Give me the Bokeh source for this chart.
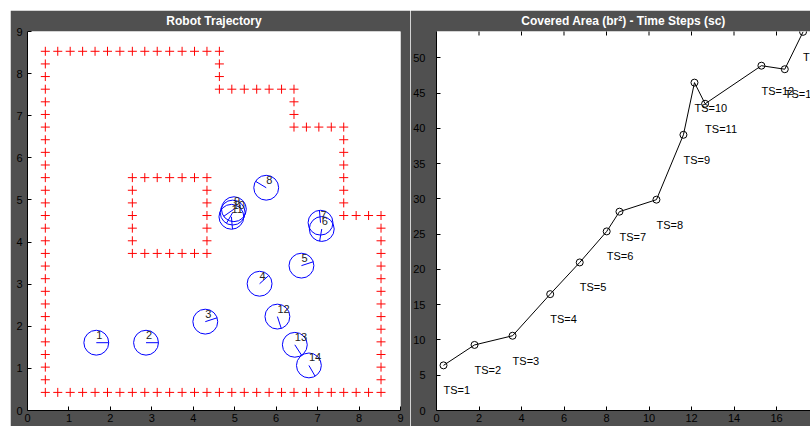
from bokeh.plotting import figure
from bokeh.models import Range1d, FixedTicker, Spacer, ColumnDataSource
from bokeh.layouts import row, column
from bokeh.core.properties import value
from bokeh.embed import file_html
from bokeh.resources import INLINE

# ---------------- data ----------------
# occupancy map of the walls (top row first), cell origin and cell size
wall_map = [
    "+" * 15 + "." * 13,
    "+" + "." * 13 + "+" + "." * 13,
    "+" + "." * 13 + "+" + "." * 13,
    "+" + "." * 13 + "+" * 7 + "." * 7,
    "+" + "." * 19 + "+" + "." * 7,
    "+" + "." * 19 + "+" + "." * 7,
    "+" + "." * 19 + "+" * 5 + "." * 3,
    "+" + "." * 23 + "+" + "." * 3,
    "+" + "." * 23 + "+" + "." * 3,
    "+" + "." * 23 + "+" + "." * 3,
    "+" + "." * 6 + "+" * 7 + "." * 10 + "+" + "." * 3,
    "+" + "." * 6 + "+" + "." * 5 + "+" + "." * 10 + "+" + "." * 3,
    "+" + "." * 6 + "+" + "." * 5 + "+" + "." * 10 + "+" + "." * 3,
    "+" + "." * 6 + "+" + "." * 5 + "+" + "." * 10 + "+" * 4,
    "+" + "." * 6 + "+" + "." * 5 + "+" + "." * 13 + "+",
    "+" + "." * 6 + "+" + "." * 5 + "+" + "." * 13 + "+",
    "+" + "." * 6 + "+" * 7 + "." * 13 + "+",
    "+" + "." * 26 + "+",
    "+" + "." * 26 + "+",
    "+" + "." * 26 + "+",
    "+" + "." * 26 + "+",
    "+" + "." * 26 + "+",
    "+" + "." * 26 + "+",
    "+" + "." * 26 + "+",
    "+" + "." * 26 + "+",
    "+" + "." * 26 + "+",
    "+" + "." * 26 + "+",
    "+" * 28,
]
GRID_X0 = 0.43
GRID_Y0 = 0.43
GRID_STEP = 0.3

robot_id = ["1", "2", "3", "4", "5", "6", "7", "8", "9", "10", "11", "12", "13", "14"]
robot_x = [1.66, 2.86, 4.29, 5.60, 6.61, 7.10, 7.07, 5.76, 4.98, 4.95, 4.92, 6.03, 6.45, 6.79]
robot_y = [1.61, 1.61, 2.11, 3.01, 3.44, 4.31, 4.46, 5.29, 4.78, 4.70, 4.60, 2.23, 1.56, 1.07]
robot_heading = [0, 0, 18, 42, 18, -100, 95, 149, 215, 240, 275, -72, -57, -60]
ROBOT_R = 0.3

ts_x = [0.33, 1.79, 3.58, 5.35, 6.74, 8.01, 8.61, 10.35, 11.62, 12.14, 12.64, 15.29, 16.39, 17.25]
ts_area = [6.4, 9.3, 10.6, 16.5, 21.0, 25.4, 28.2, 29.9, 39.1, 46.5, 43.5, 48.9, 48.4, 53.7]
ts_labels = ["TS=%d" % (k + 1) for k in range(len(ts_x))]

left_ticks = [0, 1, 2, 3, 4, 5, 6, 7, 8, 9]
right_xticks = [0, 2, 4, 6, 8, 10, 12, 14, 16]
right_yticks = [0, 5, 10, 15, 20, 25, 30, 35, 40, 45, 50]

# ---------------- style ----------------
BG = "#505050"
FONT = "Liberation Sans"

wall_x, wall_y = [], []
nrows = len(wall_map)
for r, line in enumerate(wall_map):
    j = nrows - 1 - r
    for i, ch in enumerate(line):
        if ch == "+":
            wall_x.append(round(GRID_X0 + GRID_STEP * i, 3))
            wall_y.append(round(GRID_Y0 + GRID_STEP * j, 3))


def style(p, xt, yt, ystandoff, title):
    p.grid.visible = False
    p.outline_line_color = None
    p.border_fill_color = BG
    p.background_fill_color = "white"
    p.title.text = title
    p.title.align = "center"
    p.title.vertical_align = "top"
    p.title.text_color = "white"
    p.title.text_font = FONT
    p.title.text_font_size = "12px"
    p.title.text_font_style = "bold"
    p.title.standoff = 4
    for ax in p.axis:
        ax.major_tick_in = 4
        ax.major_tick_out = 0
        ax.minor_tick_line_color = None
        ax.axis_line_color = "black"
        ax.major_tick_line_color = "black"
        ax.major_label_text_font = FONT
        ax.major_label_text_font_size = "11px"
        ax.major_label_text_color = "black"
    p.xaxis.ticker = FixedTicker(ticks=xt)
    p.yaxis.ticker = FixedTicker(ticks=yt)
    p.xaxis.major_label_standoff = 3
    p.yaxis.major_label_standoff = ystandoff


# ---------------- left: trajectory ----------------
left = figure(frame_width=373, frame_height=379, min_border_left=17, min_border_right=10,
              min_border_top=21, min_border_bottom=16,
              x_range=Range1d(0, 9), y_range=Range1d(0, 9),
              toolbar_location=None, tools="", output_backend="svg")
style(left, left_ticks, left_ticks, 5, "Robot Trajectory")

left.scatter(wall_x, wall_y, marker="cross", size=9, line_color="red", line_width=1)

rsrc = ColumnDataSource(dict(x=robot_x, y=robot_y, h=robot_heading, t=robot_id))
left.circle(x="x", y="y", radius=ROBOT_R, source=rsrc, fill_color=None,
            line_color="#0000ff", line_width=1)
left.ray(x="x", y="y", length=ROBOT_R, angle="h", angle_units="deg", source=rsrc,
         line_color="#0000ff", line_width=1)
left.text(x="x", y="y", text="t", source=rsrc, text_font=value(FONT),
          text_font_size="11px", text_color="#222222", text_align="left",
          text_baseline="middle", y_offset=-8)

# ---------------- right: covered area ----------------
right_yr = Range1d(0, 53.75)
right = figure(frame_width=374, frame_height=379, min_border_left=26, min_border_right=0,
               min_border_top=21, min_border_bottom=16,
               x_range=Range1d(0, 17.6), y_range=right_yr,
               toolbar_location=None, tools="", output_backend="svg")
style(right, right_xticks, right_yticks, 11, "Covered Area (br\u00b2) - Time Steps (sc)")

# inward tick marks along the top edge (box on), clipped to the frame
right.scatter(x=right_xticks, y=[right_yr.end] * len(right_xticks), marker="dash",
              angle=1.5708, size=8, line_color="black", line_width=1)

tsrc = ColumnDataSource(dict(x=ts_x, y=ts_area, t=ts_labels))
right.line(x="x", y="y", source=tsrc, line_color="black", line_width=1)
right.scatter(x="x", y="y", source=tsrc, marker="circle", size=7, fill_color=None,
              line_color="black", line_width=1)
right.text(x="x", y="y", text="t", source=tsrc, text_font=value(FONT),
           text_font_size="11px", text_color="black", text_align="left",
           text_baseline="middle", y_offset=25)

layout = column(Spacer(height=10), row(Spacer(width=10), left, right))
open("out.html", "w").write(file_html(layout, INLINE))
